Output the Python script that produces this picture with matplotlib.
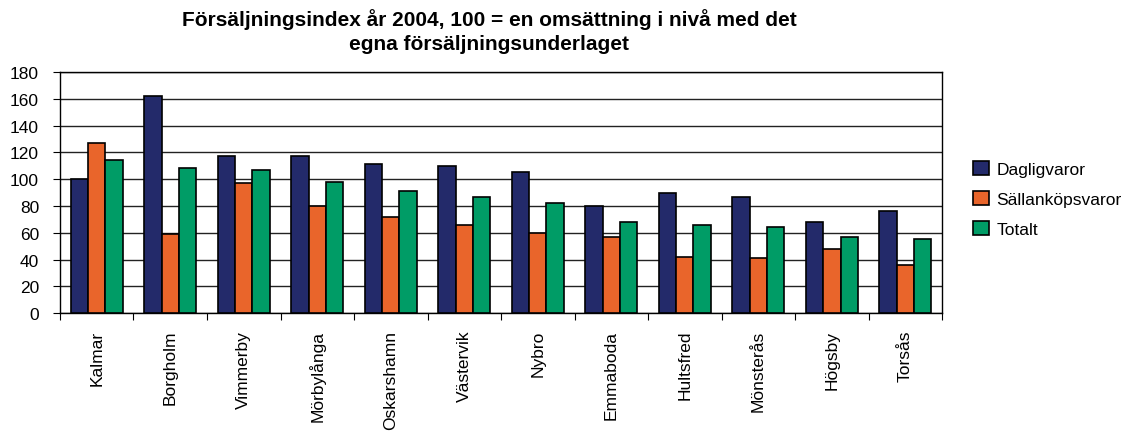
import numpy as np
import matplotlib.pyplot as plt

plt.rcParams['font.family'] = ['Liberation Sans', 'DejaVu Sans']

kommuner = ['Kalmar', 'Borgholm', 'Vimmerby', 'Mörbylånga', 'Oskarshamn', 'Västervik',
            'Nybro', 'Emmaboda', 'Hultsfred', 'Mönsterås', 'Högsby', 'Torsås']
dagligvaror = [100, 162, 117, 117, 111, 110, 105, 80, 90, 87, 68, 76]
sallankop = [127, 59, 97, 80, 72, 66, 60, 57, 42, 41, 48, 36]
totalt = [114, 108, 107, 98, 91, 87, 82, 68, 66, 64, 57, 55]

serier = ['Dagligvaror', 'Sällanköpsvaror', 'Totalt']
farger = ['#232a6a', '#e9652b', '#009c66']

fig = plt.figure(figsize=(11.27, 4.35), dpi=100)
ax = fig.add_axes([0.0532, 0.278, 0.7828, 0.554])

x = np.arange(len(kommuner))
b = 0.235
for i, (vals, namn) in enumerate(zip([dagligvaror, sallankop, totalt], serier)):
    ax.bar(x + (i - 1) * b, vals, b, color=farger[i], edgecolor='black',
           linewidth=1.2, label=namn, zorder=3)

ax.set_xlim(-0.5, len(kommuner) - 0.5)
ax.set_ylim(0, 180)
ax.set_yticks(range(0, 181, 20))
ax.yaxis.grid(True, color='#222222', linewidth=1, zorder=0)
ax.set_axisbelow(True)

ax.set_xticks(np.arange(-0.5, len(kommuner), 1))
ax.set_xticklabels([])
ax.set_xticks(x, minor=True)
ax.set_xticklabels(kommuner, minor=True, rotation=90, fontsize=12.5)
ax.tick_params(axis='x', which='minor', length=0, pad=12)
ax.tick_params(axis='x', which='major', length=5, direction='out')
ax.tick_params(axis='y', length=5, labelsize=12.5, pad=10)
for s in ax.spines.values():
    s.set_color('black')
    s.set_linewidth(1)

fig.text(489 / 1127, 1 - 20 / 435, 'Försäljningsindex år 2004, 100 = en omsättning i nivå med det',
         fontsize=15, fontweight='bold', ha='center', va='center')
fig.text(489 / 1127, 1 - 44 / 435, 'egna försäljningsunderlaget',
         fontsize=15, fontweight='bold', ha='center', va='center')

ax.legend(loc='center left', bbox_to_anchor=(973 / 1127, 1 - 200 / 435),
          bbox_transform=fig.transFigure, frameon=False, fontsize=12.5,
          handlelength=0.9, handleheight=0.9, labelspacing=0.8, handletextpad=0.45,
          borderpad=0, borderaxespad=0)

fig.savefig('out.png', dpi=100)
